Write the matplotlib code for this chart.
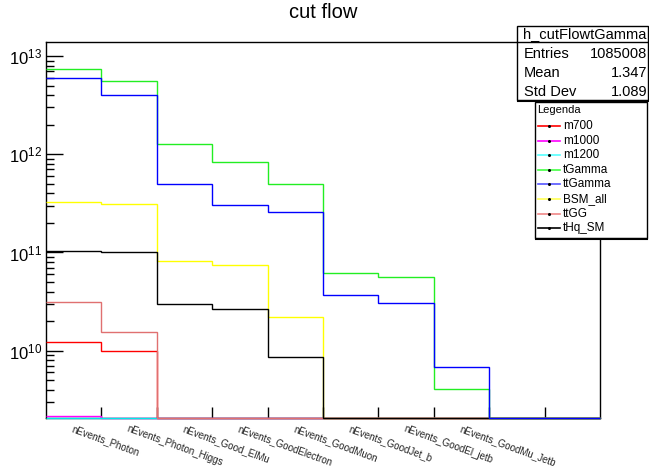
import numpy as np
import matplotlib
matplotlib.use('Agg')
import matplotlib.pyplot as plt
from matplotlib.patches import Rectangle
from matplotlib.lines import Line2D
from matplotlib.ticker import LogLocator, NullFormatter, FixedLocator, NullLocator

plt.rcParams['font.family'] = ['Liberation Sans', 'DejaVu Sans']
plt.rcParams['mathtext.fontset'] = 'custom'
plt.rcParams['mathtext.rm'] = 'Liberation Sans'
plt.rcParams['mathtext.it'] = 'Liberation Sans:italic'

categories = ["nEvents_Photon", "nEvents_Photon_Higgs", "nEvents_Good_ElMu",
              "nEvents_GoodElectron", "nEvents_GoodMuon", "nEvents_GoodJet_b",
              "nEvents_GoodEl_jetb", "nEvents_GoodMu_Jetb", "", ""]

m700    = [1.23e10, 1.00e10, 0, 0, 0, 0, 0, 0, 0, 0]
m1000   = [2.14e9, 0, 0, 0, 0, 0, 0, 0, 0, 0]
m1200   = [1.5e9, 1.5e9, 0, 0, 0, 0, 0, 0, 0, 0]
tGamma  = [7.39e12, 5.57e12, 1.26e12, 8.35e11, 4.99e11, 6.18e10, 5.63e10, 4.07e9, 0, 0]
ttGamma = [5.98e12, 4.02e12, 4.99e11, 3.05e11, 2.59e11, 3.69e10, 3.06e10, 6.83e9, 0, 0]
BSM_all = [3.27e11, 3.12e11, 8.19e10, 7.46e10, 2.20e10, 0, 0, 0, 0, 0]
ttGG    = [3.15e10, 1.55e10, 0, 0, 0, 0, 0, 0, 0, 0]
tHq_SM  = [1.04e11, 1.01e11, 2.99e10, 2.66e10, 8.63e9, 0, 0, 0, 0, 0]

series_names = ["m700", "m1000", "m1200", "tGamma", "ttGamma", "BSM_all", "ttGG", "tHq_SM"]
series_vals = [m700, m1000, m1200, tGamma, ttGamma, BSM_all, ttGG, tHq_SM]
colors = {"m700": "#ff0000", "m1000": "#ff00ff", "m1200": "#00e8e8",
          "tGamma": "#22ee22", "ttGamma": "#0000ff", "BSM_all": "#ffff00",
          "ttGG": "#e07070", "tHq_SM": "#000000"}
legend_colors = {"m700": "#ff0000", "m1000": "#ff00ff", "m1200": "#55ffff",
                 "tGamma": "#44ff44", "ttGamma": "#5555ff", "BSM_all": "#ffff55",
                 "ttGG": "#f08888", "tHq_SM": "#000000"}

stats_title = "h_cutFlowtGamma"
stats_rows = [("Entries", "1085008"), ("Mean", "1.347"), ("Std Dev", "1.089")]

W, H = 649, 469
fig = plt.figure(figsize=(W/100, H/100), dpi=100)
fig.patch.set_facecolor('white')

def fx(px):
    return px / W
def fy(py):
    return 1 - py / H

ax = fig.add_axes([fx(46), fy(418.3), fx(600) - fx(46), fy(41.7) - fy(418.3)])
ymin, ymax = 2.05e9, 1.40e13
edges = np.arange(len(categories) + 1)

draw_order = ["m700", "m1000", "m1200", "BSM_all", "ttGG", "tHq_SM", "tGamma", "ttGamma"]
vals = dict(zip(series_names, series_vals))
for name in draw_order:
    v = np.maximum(np.array(vals[name], dtype=float), ymin)
    ax.stairs(v, edges, baseline=None, color=colors[name], lw=1.0, zorder=3, clip_on=False)

ax.set_yscale('log')
ax.set_ylim(ymin, ymax)
ax.set_xlim(edges[0], edges[-1])

ax.yaxis.set_major_locator(FixedLocator([1e10, 1e11, 1e12, 1e13]))
ax.yaxis.set_minor_locator(LogLocator(base=10, subs=np.arange(2, 10)))
ax.yaxis.set_minor_formatter(NullFormatter())
ax.set_yticklabels([r"$10^{10}$", r"$10^{11}$", r"$10^{12}$", r"$10^{13}$"])
ax.tick_params(axis='y', which='major', direction='in', length=12, width=1,
               labelsize=12, pad=3, right=False)
ax.tick_params(axis='y', which='minor', direction='in', length=6, width=1, right=False)

ax.xaxis.set_major_locator(FixedLocator(edges[1:-1]))
ax.xaxis.set_minor_locator(NullLocator())
ax.tick_params(axis='x', which='major', direction='in', length=8, width=1,
               labelbottom=False, top=False)

for i, lab in enumerate(categories):
    if lab:
        ax.text(i + 0.5, -0.015, lab, transform=ax.get_xaxis_transform(),
                rotation=-20, rotation_mode='anchor', ha='left', va='top',
                fontsize=7, color='#222222')

for s in ax.spines.values():
    s.set_linewidth(1)
    s.set_color('black')
    s.set_zorder(2.5)

fig.text(fx(323), fy(13), "cut flow", ha='center', va='center', fontsize=14.5)

# stats box
sx0, sx1, sy0, sy1 = 517, 648, 26, 100
fig.patches.append(Rectangle((fx(sx0), fy(sy1)), fx(sx1) - fx(sx0), fy(sy0) - fy(sy1),
                             transform=fig.transFigure, facecolor='white',
                             edgecolor='black', lw=1, zorder=5))
fig.lines.append(Line2D([fx(sx0), fx(sx1)], [fy(42), fy(42)], transform=fig.transFigure,
                        color='black', lw=1, zorder=6))
fig.lines.append(Line2D([fx(sx0 + 1), fx(sx1)], [fy(sy1 + 1), fy(sy1 + 1)], transform=fig.transFigure,
                        color='black', lw=1.5, zorder=6))
fig.text(fx((sx0 + sx1) / 2 + 2), fy(34), stats_title, ha='center', va='center', fontsize=10.5, zorder=7)
for j, (k, v) in enumerate(stats_rows):
    yy = 54 + j * 19
    fig.text(fx(524), fy(yy), k, ha='left', va='center', fontsize=10.5, zorder=7)
    fig.text(fx(647), fy(yy), v, ha='right', va='center', fontsize=10.5, zorder=7)

# legend box
lx0, lx1, ly0, ly1 = 535, 647, 102, 238
fig.patches.append(Rectangle((fx(lx0), fy(ly1)), fx(lx1) - fx(lx0), fy(ly0) - fy(ly1),
                             transform=fig.transFigure, facecolor='white',
                             edgecolor='black', lw=1, zorder=5))
fig.lines.append(Line2D([fx(lx0 + 1), fx(lx1)], [fy(ly1 + 1), fy(ly1 + 1)], transform=fig.transFigure,
                        color='black', lw=1.5, zorder=6))
fig.text(fx(537), fy(110), "Legenda", ha='left', va='center', fontsize=8, zorder=7)
for j, name in enumerate(series_names):
    yy = 126 + j * 14.6
    fig.lines.append(Line2D([fx(538), fx(560)], [fy(yy), fy(yy)], transform=fig.transFigure,
                            color=legend_colors[name], lw=1.2, zorder=7))
    fig.lines.append(Line2D([fx(549)], [fy(yy)], transform=fig.transFigure, marker='o',
                            markersize=1.2, color='black', lw=0, zorder=8))
    fig.text(fx(563), fy(yy), name, ha='left', va='center', fontsize=8.5, zorder=7)

fig.savefig("out.png", dpi=100)
